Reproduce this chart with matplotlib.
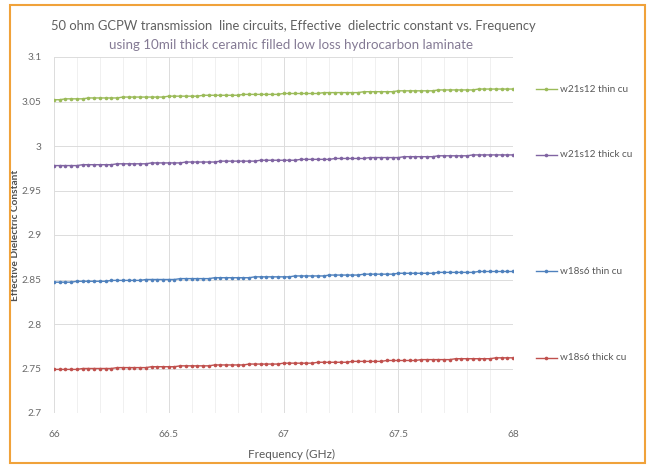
import numpy as np
import matplotlib.pyplot as plt
from matplotlib.lines import Line2D
from matplotlib.patches import Rectangle
from matplotlib.ticker import MultipleLocator

plt.rcParams['font.family'] = ['Lato', 'DejaVu Sans']

# frequency points, 66 .. 68 GHz in 25 MHz steps
freq = np.linspace(66, 68, 81)

w21s12_thin = [
    3.052, 3.052, 3.053, 3.053, 3.053, 3.053, 3.054, 3.054, 3.054, 3.054,
    3.054, 3.054, 3.055, 3.055, 3.055, 3.055, 3.055, 3.055, 3.055, 3.055,
    3.056, 3.056, 3.056, 3.056, 3.056, 3.056, 3.057, 3.057, 3.057, 3.057,
    3.057, 3.057, 3.057, 3.058, 3.058, 3.058, 3.058, 3.058, 3.058, 3.058,
    3.059, 3.059, 3.059, 3.059, 3.059, 3.059, 3.059, 3.060, 3.060, 3.060,
    3.060, 3.060, 3.060, 3.060, 3.061, 3.061, 3.061, 3.061, 3.061, 3.061,
    3.062, 3.062, 3.062, 3.062, 3.062, 3.062, 3.062, 3.063, 3.063, 3.063,
    3.063, 3.063, 3.063, 3.063, 3.064, 3.064, 3.064, 3.064, 3.064, 3.064,
    3.064,
]
w21s12_thick = [
    2.978, 2.978, 2.978, 2.978, 2.978, 2.979, 2.979, 2.979, 2.979, 2.979,
    2.979, 2.980, 2.980, 2.980, 2.980, 2.980, 2.980, 2.981, 2.981, 2.981,
    2.981, 2.981, 2.981, 2.982, 2.982, 2.982, 2.982, 2.982, 2.982, 2.983,
    2.983, 2.983, 2.983, 2.983, 2.983, 2.983, 2.984, 2.984, 2.984, 2.984,
    2.984, 2.984, 2.984, 2.985, 2.985, 2.985, 2.985, 2.985, 2.985, 2.986,
    2.986, 2.986, 2.986, 2.986, 2.986, 2.987, 2.987, 2.987, 2.987, 2.987,
    2.987, 2.988, 2.988, 2.988, 2.988, 2.988, 2.988, 2.989, 2.989, 2.989,
    2.989, 2.989, 2.989, 2.990, 2.990, 2.990, 2.990, 2.990, 2.990, 2.990,
    2.990,
]
w18s6_thin = [
    2.847, 2.847, 2.847, 2.847, 2.848, 2.848, 2.848, 2.848, 2.848, 2.848,
    2.849, 2.849, 2.849, 2.849, 2.849, 2.849, 2.850, 2.850, 2.850, 2.850,
    2.850, 2.850, 2.851, 2.851, 2.851, 2.851, 2.851, 2.851, 2.852, 2.852,
    2.852, 2.852, 2.852, 2.852, 2.852, 2.853, 2.853, 2.853, 2.853, 2.853,
    2.853, 2.853, 2.854, 2.854, 2.854, 2.854, 2.854, 2.854, 2.855, 2.855,
    2.855, 2.855, 2.855, 2.855, 2.856, 2.856, 2.856, 2.856, 2.856, 2.856,
    2.857, 2.857, 2.857, 2.857, 2.857, 2.857, 2.857, 2.858, 2.858, 2.858,
    2.858, 2.858, 2.858, 2.858, 2.859, 2.859, 2.859, 2.859, 2.859, 2.859,
    2.859,
]
w18s6_thick = [
    2.749, 2.749, 2.749, 2.749, 2.749, 2.750, 2.750, 2.750, 2.750, 2.750,
    2.750, 2.751, 2.751, 2.751, 2.751, 2.751, 2.751, 2.752, 2.752, 2.752,
    2.752, 2.752, 2.753, 2.753, 2.753, 2.753, 2.753, 2.753, 2.754, 2.754,
    2.754, 2.754, 2.754, 2.754, 2.755, 2.755, 2.755, 2.755, 2.755, 2.755,
    2.756, 2.756, 2.756, 2.756, 2.756, 2.756, 2.757, 2.757, 2.757, 2.757,
    2.757, 2.757, 2.758, 2.758, 2.758, 2.758, 2.758, 2.758, 2.759, 2.759,
    2.759, 2.759, 2.759, 2.759, 2.760, 2.760, 2.760, 2.760, 2.760, 2.760,
    2.761, 2.761, 2.761, 2.761, 2.761, 2.761, 2.761, 2.762, 2.762, 2.762,
    2.762,
]

series = [
    ("w21s12 thin cu", w21s12_thin, "#9BBB59"),
    ("w21s12 thick cu", w21s12_thick, "#8064A2"),
    ("w18s6 thin cu", w18s6_thin, "#4F81BD"),
    ("w18s6 thick cu", w18s6_thick, "#C0504D"),
]

fig = plt.figure(figsize=(6.53, 4.67), dpi=100)
ax = fig.add_axes([54 / 653, 1 - 413 / 467, 459 / 653, 356 / 467])

# orange frame round the whole chart
fig.patches.append(Rectangle((10 / 653, 4 / 467), 635 / 653, 458 / 467,
                             transform=fig.transFigure, fill=False,
                             edgecolor="#F0A23A", linewidth=1.5))

for name, vals, col in series:
    ax.plot(freq, vals, color=col, lw=1.0, marker="o", ms=2.6,
            markeredgewidth=0, zorder=3)
    y_end = vals[-1]
    ax.add_line(Line2D([1.05, 1.095], [y_end, y_end], color=col, lw=1.0,
                       transform=ax.get_yaxis_transform(), clip_on=False))
    ax.add_line(Line2D([1.0725], [y_end], color=col, marker="o", ms=2.6,
                       markeredgewidth=0, transform=ax.get_yaxis_transform(),
                       clip_on=False))
    ax.text(1.102, y_end, name, transform=ax.get_yaxis_transform(),
            va="center", ha="left", fontsize=7.2, color="#595959")

ax.set_xlim(66, 68)
ax.set_ylim(2.7, 3.1)
ax.xaxis.set_minor_locator(MultipleLocator(0.1))
ax.set_xticks([66, 66.5, 67, 67.5, 68])
ax.set_xticklabels(["66", "66.5", "67", "67.5", "68"])
ax.set_yticks([2.7, 2.75, 2.8, 2.85, 2.9, 2.95, 3.0, 3.05, 3.1])
ax.set_yticklabels(["2.7", "2.75", "2.8", "2.85", "2.9", "2.95", "3",
                    "3.05", "3.1"])

ax.grid(which="major", color="#DCDCDC", lw=0.7)
ax.grid(which="minor", axis="x", color="#EEEEEE", lw=0.6)
for s in ax.spines.values():
    s.set_visible(False)
ax.tick_params(which="both", length=0, labelsize=7.3, colors="#6a6a6a")
ax.tick_params(axis="x", pad=12)
ax.tick_params(axis="y", pad=9)

ax.set_xlabel("Frequency (GHz)", fontsize=8.5, color="#595959")
ax.xaxis.set_label_coords((291 - 54) / 459, -(449 - 413) / 356)
ax.set_ylabel("Effective Dielectric Constant", fontsize=7.3, color="#505050",
              fontweight="bold")
ax.yaxis.set_label_coords(-(54 - 20) / 459, 0.5)

fig.text(293 / 653, 1 - 26 / 467,
         "50 ohm GCPW transmission  line circuits, Effective  dielectric constant vs. Frequency",
         ha="center", va="center", fontsize=9.4, color="#606060")
fig.text(291 / 653, 1 - 45 / 467,
         "using 10mil thick ceramic filled low loss hydrocarbon laminate",
         ha="center", va="center", fontsize=9.6, color="#847a94")

fig.savefig("out.png", dpi=100)
